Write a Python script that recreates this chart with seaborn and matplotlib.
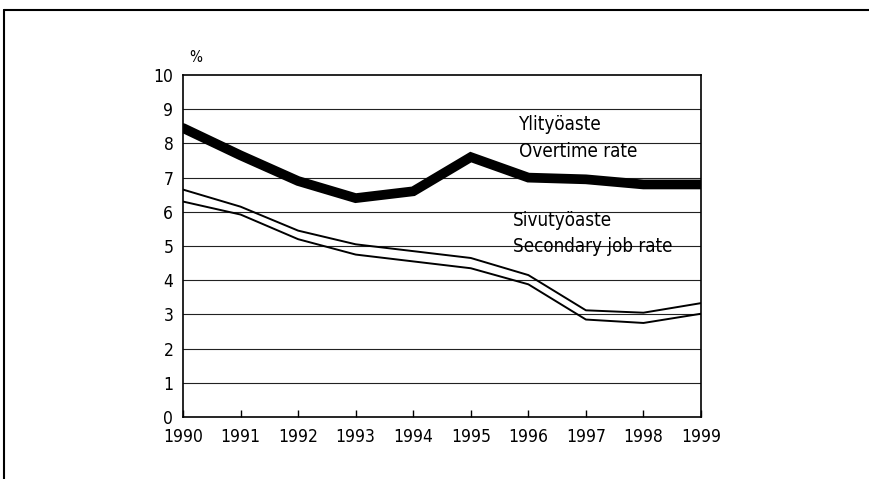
import numpy as np
import pandas as pd
import seaborn as sns
import matplotlib.pyplot as plt
from matplotlib.lines import Line2D

years = [1990, 1991, 1992, 1993, 1994, 1995, 1996, 1997, 1998, 1999]
overtime = [8.45, 7.65, 6.9, 6.4, 6.6, 7.6, 7.0, 6.95, 6.8, 6.8]
secondary_upper = [6.65, 6.15, 5.45, 5.05, 4.85, 4.65, 4.15, 3.12, 3.05, 3.33]
secondary_lower = [6.3, 5.92, 5.2, 4.75, 4.55, 4.35, 3.88, 2.85, 2.75, 3.02]
y_ticks = list(range(0, 11))

sns.set_theme(style='white')
plt.rcParams['font.family'] = ['DejaVu Sans']
plt.rcParams['font.stretch'] = 'condensed'
plt.rcParams['text.color'] = 'black'
plt.rcParams['xtick.color'] = 'black'
plt.rcParams['ytick.color'] = 'black'

fig = plt.figure(figsize=(8.69, 4.79), dpi=100)
ax = fig.add_axes([0.2106, 0.1294, 0.5961, 0.714])

for v in y_ticks[1:-1]:
    ax.axhline(v, color='#222222', lw=0.8, zorder=1)

df = pd.DataFrame({'year': years, 'ot': overtime,
                   'su': secondary_upper, 'sl': secondary_lower})
sns.lineplot(data=df, x='year', y='ot', color='black', lw=7,
             solid_joinstyle='miter', ax=ax, zorder=3)
sns.lineplot(data=df, x='year', y='su', color='black', lw=1.4, ax=ax, zorder=3)
sns.lineplot(data=df, x='year', y='sl', color='black', lw=1.4, ax=ax, zorder=3)

ax.set_xlim(1990, 1999)
ax.set_ylim(0, 10)
ax.set_xticks(years)
ax.set_xticklabels([str(y) for y in years], fontsize=12.5, fontstretch='condensed')
ax.set_yticks(y_ticks)
ax.set_yticklabels([str(v) for v in y_ticks], fontsize=12.5, fontstretch='condensed')
ax.tick_params(axis='x', direction='in', length=5, width=1, color='black',
               pad=8, bottom=True)
ax.tick_params(axis='y', length=0, pad=7)
ax.set_xlabel('')
ax.set_ylabel('')
for s in ax.spines.values():
    s.set_color('black')
    s.set_linewidth(1.2)
ax.grid(False)

ax.text(0.012, 1.028, '%', transform=ax.transAxes, fontsize=11,
        ha='left', va='bottom')
ax.text(1995.83, 8.55, 'Ylityöaste', fontsize=13.5, ha='left', va='center')
ax.text(1995.83, 7.75, 'Overtime rate', fontsize=13.5, ha='left', va='center')
ax.text(1995.73, 5.75, 'Sivutyöaste', fontsize=13.5, ha='left', va='center')
ax.text(1995.73, 4.98, 'Secondary job rate', fontsize=13.5, ha='left', va='center')

# outer frame, cut off at right and bottom
fig.add_artist(Line2D([0.005, 1.0], [0.979, 0.979], color='black', lw=1.5,
                      transform=fig.transFigure))
fig.add_artist(Line2D([0.005, 0.005], [0.0, 0.979], color='black', lw=1.5,
                      transform=fig.transFigure))

fig.savefig('out.png', dpi=100, facecolor='white')
